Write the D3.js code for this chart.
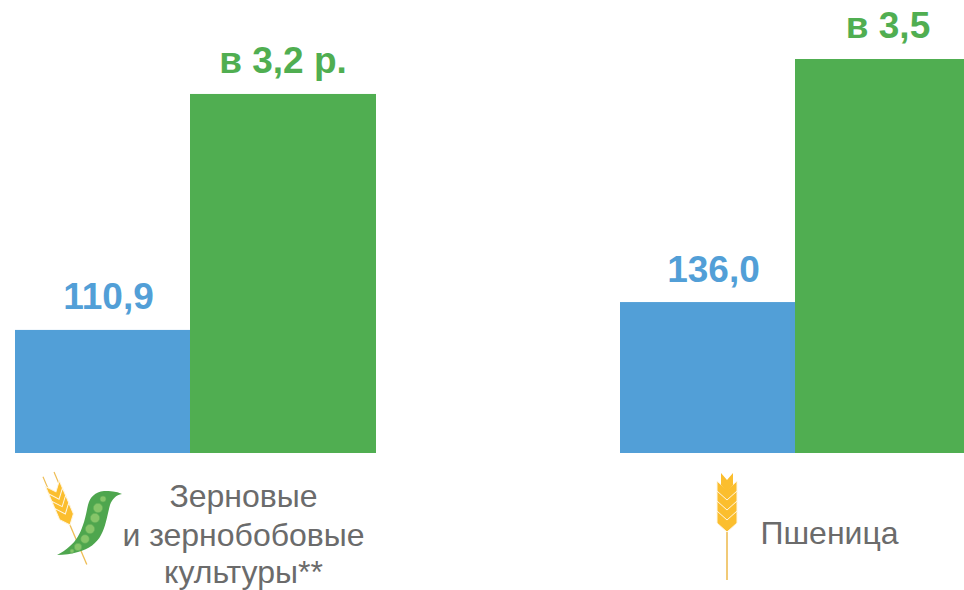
<!DOCTYPE html>
<html lang="ru">
<head>
    <meta charset="UTF-8"/>
    <title>Chart</title>
    <script src="https://d3js.org/d3.v7.min.js"></script>
    <style>
        html, body { margin: 0; padding: 0; background: #fff; overflow: hidden; }
        text { font-family: "Liberation Sans", Arial, sans-serif; }
    </style>
</head>
<body>
<div id="chart"></div>
<script>
    const categories = ["Зерновые и зернобобовые культуры**", "Пшеница"];
    const baseValues = [110.9, 136.0];
    const currentValues = [323.5, 355];
    const baseLabels = ["110,9", "136,0"];
    const currentLabels = ["в 3,2 р.", "в 3,5"];
    const categoryLines = [["Зерновые", "и зернобобовые", "культуры**"], ["Пшеница"]];

    const width = 964, height = 590, baseline = 453;
    const blue = "#529fd7", green = "#50ae51", grey = "#6b6b6b";
    const barW = 186, barStep = 175;

    const svg = d3.select("#chart").append("svg")
        .attr("width", width)
        .attr("height", height);

    const x = d3.scalePoint().domain(categories).range([15, 620]);
    const y = d3.scaleLinear().domain([0, 355]).range([baseline, 59]);

    const groups = svg.selectAll("g.cat")
        .data(categories.map((c, i) => ({c, i})))
        .join("g")
        .attr("class", "cat");

    // blue goes first, the green bar sits over its right edge
    groups.append("rect")
        .attr("x", d => x(d.c))
        .attr("y", d => y(baseValues[d.i]))
        .attr("width", barW)
        .attr("height", d => baseline - y(baseValues[d.i]))
        .attr("fill", blue);

    groups.append("rect")
        .attr("x", d => x(d.c) + barStep)
        .attr("y", d => y(currentValues[d.i]))
        .attr("width", barW)
        .attr("height", d => baseline - y(currentValues[d.i]))
        .attr("fill", green);

    groups.append("text")
        .attr("x", d => x(d.c) + 93.5)
        .attr("y", d => y(baseValues[d.i]) - 20.5)
        .attr("text-anchor", "middle")
        .style("font-size", "37px")
        .style("font-weight", "bold")
        .attr("fill", blue)
        .text(d => baseLabels[d.i]);

    groups.append("text")
        .attr("x", d => x(d.c) + barStep + 93)
        .attr("y", d => y(currentValues[d.i]) - 21)
        .attr("text-anchor", "middle")
        .style("font-size", "37px")
        .style("font-weight", "bold")
        .attr("fill", green)
        .text(d => currentLabels[d.i]);

    // category captions
    const captionX = [243.5, 829.5], captionY = [[507, 546, 583], [544]];
    categoryLines.forEach((lines, i) => {
        lines.forEach((line, j) => {
            svg.append("text")
                .attr("x", captionX[i])
                .attr("y", captionY[i][j])
                .attr("text-anchor", "middle")
                .style("font-size", "32px")
                .attr("fill", grey)
                .text(line);
        });
    });

    // one ear: stacked chevrons going up from (0,0)
    function ear(g, rows, w, rowH) {
        for (let r = rows - 1; r >= 0; r--) {
            const b = -r * rowH;
            g.append("path")
                .attr("d", `M0,${b} L${-w},${b - 9} L${-w},${b - 21} L0,${b - 12} L${w},${b - 21} L${w},${b - 9} Z`)
                .attr("fill", "#fbbe2e")
                .attr("stroke", "#fff6e2")
                .attr("stroke-width", 1);
        }
    }

    // wheat next to "Пшеница"
    const rightEar = svg.append("g").attr("transform", "translate(727,532)");
    rightEar.append("line")
        .attr("x1", 0).attr("y1", -4).attr("x2", 0).attr("y2", 48)
        .attr("stroke", "#eebd55").attr("stroke-width", 1.6);
    ear(rightEar, 4, 10, 10);
    rightEar.append("path")
        .attr("d", "M0,-40 L-6,-47 L-6,-59 L0,-52 L6,-59 L6,-47 Z")
        .attr("fill", "#fbbe2e");

    // tilted wheat behind the pea pod
    const leftEar = svg.append("g").attr("transform", "translate(70,525) rotate(-23)");
    leftEar.append("line")
        .attr("x1", 0).attr("y1", -2).attr("x2", 0).attr("y2", 43)
        .attr("stroke", "#eebd55").attr("stroke-width", 1.3);
    [-6, 6].forEach(s => {
        leftEar.append("line")
            .attr("x1", s).attr("y1", -38).attr("x2", s).attr("y2", -55)
            .attr("stroke", "#eebd55").attr("stroke-width", 1.2);
    });
    ear(leftEar, 4, 7.5, 8);

    // pea pod
    svg.append("path")
        .attr("d", "M57,555 C64,555 72,554 78,552 C89,549 97,543 101,535 C106,526 107,516 110,505 C112,499 116,495 122,494 C116,491 110,491 104,491 C95,492 90,497 88,505 C86,514 85,520 83,525 C80,534 76,541 70,546 C66,550 61,553 57,555 Z")
        .attr("fill", "#4ea64e");
    const peas = [[72,551,2],[78,547,3.7],[85,539,4.3],[90,529,4.7],[95,518,4.7],[98,508,4.7],[103,499,3]];
    svg.selectAll("circle.pea")
        .data(peas)
        .join("circle")
        .attr("class", "pea")
        .attr("cx", d => d[0])
        .attr("cy", d => d[1])
        .attr("r", d => d[2])
        .attr("fill", "#86c569")
        .attr("stroke", "#5fae57")
        .attr("stroke-width", 0.6);
</script>
</body>
</html>
